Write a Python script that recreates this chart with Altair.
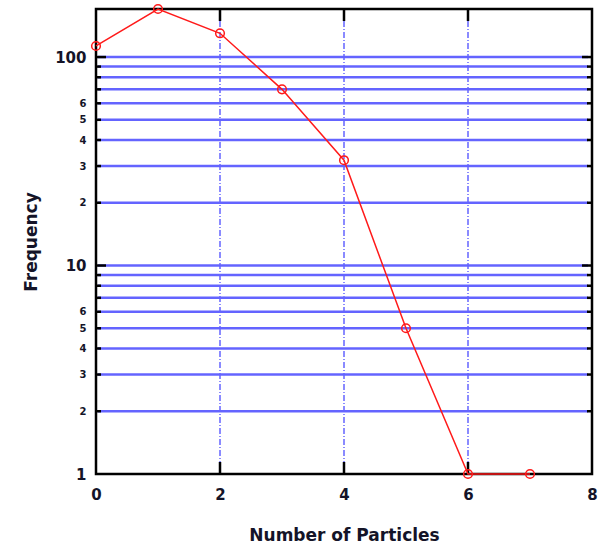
import altair as alt
import pandas as pd

# Observed particle counts per interval
particles = [0, 1, 2, 3, 4, 5, 6, 7]
frequency = [113, 170, 130, 70, 32, 5, 1, 1]

# Logarithmic grid levels and vertical grid positions
hgrid_values = [2, 3, 4, 5, 6, 7, 8, 9, 10, 20, 30, 40, 50, 60, 70, 80, 90, 100]
minor_y = [2, 3, 4, 5, 6, 7, 8, 9, 20, 30, 40, 50, 60, 70, 80, 90]
major_y = [10, 100]
vgrid_values = [2, 4, 6]
y_tick_values = [1, 2, 3, 4, 5, 6, 10, 20, 30, 40, 50, 60, 100]
x_tick_values = [0, 2, 4, 6, 8]

df = pd.DataFrame({"n": particles, "f": frequency})
hgrid = pd.DataFrame({"v": hgrid_values})
minor = pd.DataFrame({"v": minor_y})
major = pd.DataFrame({"v": major_y})
vgrid = pd.DataFrame({"v": vgrid_values})

BLUE = "#6464ff"
RED = "#ff1a1a"
INK = "#141428"
FONT = "DejaVu Sans"

xscale = alt.Scale(domain=[0, 8], nice=False, zero=False)
yscale = alt.Scale(type="log", domain=[1, 170], nice=False)

x_axis = alt.Axis(
    values=x_tick_values, format="d", grid=False, ticks=False, domain=False,
    labelFont=FONT, labelFontWeight="bold", labelFontSize=15, labelFlush=False,
    labelColor=INK, labelPadding=13,
    title="Number of Particles", titleFont=FONT,
    titleFontWeight="bold", titleFontSize=17, titleColor=INK, titlePadding=25,
)
y_axis = alt.Axis(
    values=y_tick_values, grid=False, ticks=False, domain=False,
    labelExpr="datum.value >= 20 && datum.value < 100 ? datum.value / 10 : datum.value",
    labelFont=FONT, labelFontWeight="bold", labelFlush=False,
    labelFontSize={"condition": {"test": "datum.value == 1 || datum.value == 10 || datum.value == 100", "value": 15}, "value": 10},
    labelColor=INK, labelPadding=10,
    title="Frequency", titleFont=FONT, titleFontWeight="bold",
    titleFontSize=17, titleColor=INK, titlePadding=14,
)

hlines = alt.Chart(hgrid).mark_rule(color=BLUE, strokeWidth=2.5).encode(
    y=alt.Y("v:Q", scale=yscale, axis=y_axis),
    x=alt.value(2), x2=alt.value(492),
)
vlines = alt.Chart(vgrid).mark_rule(color=BLUE, strokeWidth=1.5, strokeDash=[6, 2, 1, 2]).encode(
    x=alt.X("v:Q", scale=xscale, axis=x_axis),
    y=alt.value(12), y2=alt.value(465),
)

# Inward tick marks on all four edges
left_major = alt.Chart(major).mark_rule(color="black", strokeWidth=2.5).encode(
    y=alt.Y("v:Q", scale=yscale), x=alt.value(0), x2=alt.value(10),
)
right_major = alt.Chart(major).mark_rule(color="black", strokeWidth=2.5).encode(
    y=alt.Y("v:Q", scale=yscale), x=alt.value(486), x2=alt.value(496),
)
left_minor = alt.Chart(minor).mark_rule(color="black", strokeWidth=2.5).encode(
    y=alt.Y("v:Q", scale=yscale), x=alt.value(0), x2=alt.value(5),
)
right_minor = alt.Chart(minor).mark_rule(color="black", strokeWidth=2.5).encode(
    y=alt.Y("v:Q", scale=yscale), x=alt.value(491), x2=alt.value(496),
)
top_ticks = alt.Chart(vgrid).mark_rule(color="black", strokeWidth=2.5).encode(
    x=alt.X("v:Q", scale=xscale), y=alt.value(0), y2=alt.value(12),
)
bottom_ticks = alt.Chart(vgrid).mark_rule(color="black", strokeWidth=2.5).encode(
    x=alt.X("v:Q", scale=xscale), y=alt.value(453), y2=alt.value(465),
)

line = alt.Chart(df).mark_line(color=RED, strokeWidth=1.5, clip=False).encode(
    x=alt.X("n:Q", scale=xscale), y=alt.Y("f:Q", scale=yscale),
)
points = alt.Chart(df).mark_point(color=RED, shape="circle", size=75, strokeWidth=1.5,
                                  filled=False, opacity=1, clip=False).encode(
    x=alt.X("n:Q", scale=xscale), y=alt.Y("f:Q", scale=yscale),
)

chart = alt.layer(
    hlines, vlines, left_major, right_major, left_minor, right_minor,
    top_ticks, bottom_ticks, line, points,
).properties(
    width=496, height=465,
    background="white",
    autosize=alt.AutoSizeParams(type="none"),
    padding={"left": 96, "top": 9, "right": 9, "bottom": 76},
).configure_view(
    stroke="black", strokeWidth=2.5,
)

chart.save("out.html", embed_options={"renderer": "svg", "actions": False})
